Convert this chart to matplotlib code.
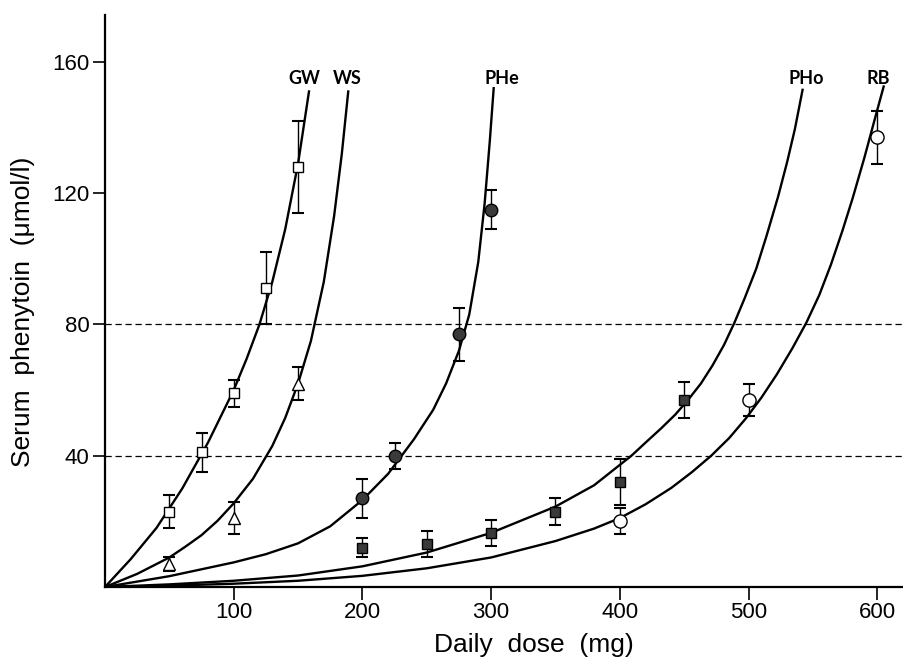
import matplotlib
matplotlib.use("Agg")
import matplotlib.pyplot as plt

plt.rcParams['font.family'] = ['Liberation Sans', 'DejaVu Sans']

# ---------------- measured points (dose mg, serum umol/l, sd) ----------------
GW_X = [50, 75, 100, 125, 150]
GW_Y = [23, 41, 59, 91, 128]
GW_E = [5, 6, 4, 11, 14]

WS_X = [50, 100, 150]
WS_Y = [7, 21, 62]
WS_E = [2, 5, 5]

PHE_X = [200, 225, 275, 300]
PHE_Y = [27, 40, 77, 115]
PHE_E = [6, 4, 8, 6]

PHO_X = [200, 250, 300, 350, 400, 450]
PHO_Y = [12, 13, 16.5, 23, 32, 57]
PHO_E = [3, 4, 4, 4, 7, 5.5]

RB_X = [400, 500, 600]
RB_Y = [20, 57, 137]
RB_E = [4, 5, 8]

# ---------------- fitted curves ----------------
GW_CX = [0, 20, 40, 60, 80, 100, 110, 120, 130, 140, 150, 158.5]
GW_CY = [0, 8.5, 18, 30, 44, 60, 69.5, 80, 93, 109, 129, 151]

WS_CX = [0, 25, 50, 62.5, 75, 87.5, 100, 115, 130, 140, 150, 160, 170, 178, 184, 189]
WS_CY = [0, 4, 9, 12.3, 15.8, 20.2, 25.5, 33, 43, 51.5, 62, 75, 93, 113, 132, 151]

PHE_CX = [0, 50, 100, 125, 150, 175, 200, 220, 240, 255, 265, 275, 283, 290, 295, 299, 302]
PHE_CY = [0, 3.3, 7.5, 10, 13.3, 18.5, 26.5, 34.5, 45, 54, 62, 72, 83, 99, 117, 136, 152]

PHO_CX = [0, 50, 100, 150, 200, 250, 300, 350, 380, 409, 420, 432, 443, 453, 463, 472,
          481, 489, 497, 506, 514, 523, 530, 536, 542]
PHO_CY = [0, 0.8, 1.9, 3.5, 6.3, 10.5, 16.5, 24.5, 31, 40, 44, 48.3, 52.5, 57, 62, 67.5,
          73.8, 80.5, 88, 97, 107, 119, 129.5, 139.5, 151.5]

RB_CX = [0, 50, 100, 150, 200, 250, 300, 350, 380, 400, 420, 440, 456, 471, 485, 498,
         510, 522, 534, 545, 555, 564, 573, 581, 590, 599.5, 605]
RB_CY = [0, 0.4, 1.0, 1.9, 3.4, 5.7, 9, 14, 17.8, 21, 25.2, 30.2, 35, 40, 45.4, 51.4,
         57.7, 64.8, 72.7, 80.6, 89, 98.2, 108.6, 118.6, 130.8, 144.6, 152.5]

LABELS = ["GW", "WS", "PHe", "PHo", "RB"]
LABEL_X = [155, 188, 308, 545, 601]
LABEL_Y = 155

REF_LEVELS = [40, 80]

fig = plt.figure(figsize=(9.04, 6.6), dpi=100)
ax = fig.add_axes([105/904, 73/660, 799/904, 572/660])
ax.set_xlim(0, 620.8)
ax.set_ylim(0, 174.3)

for lvl in REF_LEVELS:
    ax.axhline(lvl, color='black', lw=0.9, ls=(0, (5, 3)), zorder=1)

for cx, cy in [(GW_CX, GW_CY), (WS_CX, WS_CY), (PHE_CX, PHE_CY),
               (PHO_CX, PHO_CY), (RB_CX, RB_CY)]:
    ax.plot(cx, cy, color='black', lw=1.7, solid_joinstyle='round', zorder=2)

series = [
    (GW_X, GW_Y, GW_E, 's', 'white', 7),
    (WS_X, WS_Y, WS_E, '^', 'white', 8.5),
    (PHE_X, PHE_Y, PHE_E, 'o', '#3a3a3a', 9),
    (PHO_X, PHO_Y, PHO_E, 's', '#3a3a3a', 7),
    (RB_X, RB_Y, RB_E, 'o', 'white', 9.5),
]
for x, y, e, m, fc, ms in series:
    ax.errorbar(x, y, yerr=e, fmt='none', ecolor='black', elinewidth=1,
                capsize=4, capthick=1.5, zorder=3)
    ax.plot(x, y, ls='none', marker=m, ms=ms, mfc=fc, mec='black', mew=1, zorder=4)

for lab, lx in zip(LABELS, LABEL_X):
    ax.text(lx, LABEL_Y, lab, ha='center', va='center', fontsize=13,
            fontweight='bold', family=['Lato', 'DejaVu Sans'])

for s in ['top', 'right']:
    ax.spines[s].set_visible(False)
ax.spines['left'].set_linewidth(1.6)
ax.spines['bottom'].set_linewidth(1.6)

ax.set_xticks([100, 200, 300, 400, 500, 600])
ax.set_yticks([40, 80, 120, 160])
ax.tick_params(direction='out', length=9, width=1.2, labelsize=16, pad=2)

fig.text(534/904, 1 - 645/660, "Daily  dose  (mg)", ha='center', va='center', fontsize=19)
fig.text(23/904, 1 - 312/660, "Serum  phenytoin  (\u03bcmol/l)", ha='center', va='center',
         rotation=90, fontsize=19)

fig.savefig("out.png", dpi=100)
